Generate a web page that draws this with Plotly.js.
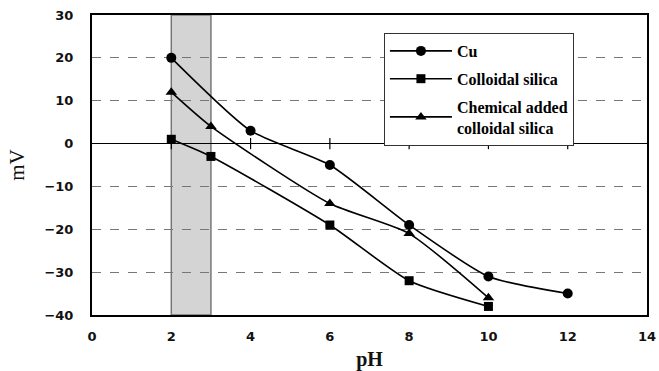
<!DOCTYPE html>
<html><head><meta charset="utf-8">
<script src="https://cdn.plot.ly/plotly-3.0.1.min.js"></script>
<style>html,body{margin:0;padding:0;background:#fff}#chart{width:659px;height:371px}</style>
</head><body><div id="chart"></div>
<script>
const pH_cu = [2, 4, 6, 8, 10, 12];
const mV_cu = [20, 3, -5, -19, -31, -35];
const pH_cs = [2, 3, 6, 8, 10];
const mV_cs = [1, -3, -19, -32, -38];
const pH_ch = [2, 3, 6, 8, 10];
const mV_ch = [12, 4, -14, -21, -36];
const xTicks = [0, 2, 4, 6, 8, 10, 12, 14];
const yTicks = [-40, -30, -20, -10, 0, 10, 20, 30];
const bandRange = [2, 3];

const lineStyle = {color: '#000', width: 1.6, shape: 'spline', smoothing: 0.6};
const traces = [
  {x: pH_cu, y: mV_cu, name: 'Cu', legendgroup: 'a', mode: 'lines+markers', line: lineStyle,
   marker: {symbol: 'circle', size: 10, color: '#000'}},
  {x: pH_cs, y: mV_cs, name: 'Colloidal silica', legendgroup: 'b', mode: 'lines+markers', line: lineStyle,
   marker: {symbol: 'square', size: 9, color: '#000'}},
  {x: pH_ch, y: mV_ch, name: 'Chemical added<br>colloidal silica', legendgroup: 'c', mode: 'lines+markers', line: lineStyle,
   marker: {symbol: 'triangle-up', size: 10, color: '#000'}},
  {x: xTicks.slice(1, -1), y: xTicks.slice(1, -1).map(() => 0), mode: 'markers', showlegend: false, hoverinfo: 'skip',
   marker: {symbol: 'line-ns', size: 8, line: {color: '#000', width: 1.2}}}
];

const serif = '"Liberation Serif", "Times New Roman", serif';
const tickFont = {family: 'DejaVu Sans', size: 13, color: '#111', weight: 'bold'};
const layout = {
  width: 659, height: 371,
  font: {family: serif, color: '#000'},
  margin: {l: 92, r: 12, t: 15, b: 56},
  paper_bgcolor: '#fff', plot_bgcolor: '#fff',
  showlegend: true,
  legend: {x: 0.526, y: 0.94, xanchor: 'left', yanchor: 'top', bgcolor: '#fff',
    bordercolor: '#333', borderwidth: 1,
    font: {family: serif, size: 16, color: '#000', weight: 'bold'},
    traceorder: 'grouped', tracegroupgap: 4, itemwidth: 62},
  xaxis: {range: [0, 14], tickvals: xTicks, ticks: '', showgrid: false, zeroline: false,
    showline: true, mirror: true, linecolor: '#000', linewidth: 2,
    tickfont: tickFont, ticklabelstandoff: 8,
    title: {text: '<b>pH</b>', font: {family: serif, size: 20, color: '#111'}, standoff: 14}},
  yaxis: {range: [-40, 30], tickvals: yTicks, ticks: '', showgrid: true, griddash: 'dash',
    gridcolor: '#777', gridwidth: 1, zeroline: true, zerolinecolor: '#000', zerolinewidth: 1.5,
    showline: true, mirror: true, linecolor: '#000', linewidth: 2,
    tickfont: tickFont, ticklabelstandoff: 14,
    title: {text: 'mV', font: {family: serif, size: 21, color: '#111'}, standoff: 14}},
  shapes: [{type: 'rect', xref: 'x', yref: 'paper', x0: bandRange[0], x1: bandRange[1], y0: 0, y1: 1,
    fillcolor: '#d4d4d4', line: {color: '#777', width: 1.5}, layer: 'below'}]
};
Plotly.newPlot('chart', traces, layout, {staticPlot: true});
</script></body></html>
